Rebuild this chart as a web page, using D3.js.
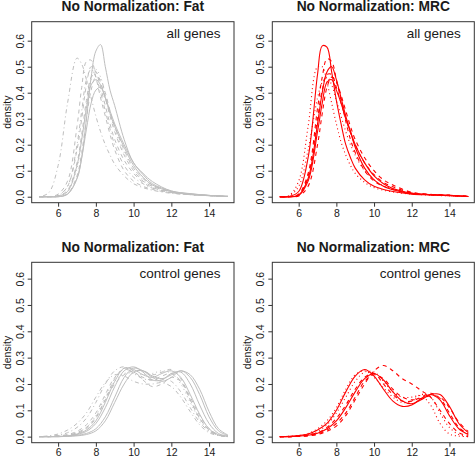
<!DOCTYPE html>
<html><head><meta charset="utf-8">
<script src="https://cdn.jsdelivr.net/npm/d3@7"></script>
<style>
html,body{margin:0;padding:0;background:#fff;}
svg text{font-family:"Liberation Sans",Arial,Helvetica,sans-serif;fill:#1a1a1a;}
</style></head>
<body><svg id="chart" width="476" height="459"></svg>
<script>
// ---------- data ----------
const xAll = [5.0,5.5,6.0,6.5,7.0,7.25,7.5,7.75,8.0,8.25,8.5,8.75,9.0,9.5,10.0,10.5,11.0,12.0,13.0,14.0,15.0];
const xCtl = [5.0,5.5,6.0,6.5,7.0,7.5,8.0,8.5,9.0,9.5,10.0,10.5,11.0,11.5,12.0,12.5,13.0,13.5,14.0,14.5,15.0];

// No Normalization: Fat, all genes
const fatAll1  = [0,0.015,0.12,0.36,0.533,0.51,0.45,0.38,0.31,0.25,0.2,0.16,0.125,0.08,0.05,0.035,0.025,0.013,0.008,0.004,0.001];
const fatAll2  = [0,0,0.01,0.06,0.27,0.42,0.52,0.525,0.46,0.38,0.31,0.24,0.18,0.1,0.06,0.04,0.028,0.015,0.008,0.004,0.001];
const fatAll3  = [0,0,0.005,0.04,0.18,0.3,0.43,0.5,0.48,0.42,0.35,0.28,0.22,0.14,0.09,0.055,0.035,0.017,0.009,0.004,0.001];
const fatAll4  = [0,0,0.003,0.025,0.13,0.24,0.37,0.46,0.48,0.44,0.38,0.31,0.25,0.16,0.1,0.06,0.04,0.018,0.009,0.004,0.001];
const fatAll5  = [0,0,0.002,0.02,0.11,0.22,0.35,0.45,0.49,0.46,0.39,0.32,0.26,0.17,0.11,0.065,0.04,0.018,0.009,0.004,0.001];
const fatAll6  = [0,0,0,0.01,0.07,0.15,0.3,0.46,0.56,0.585,0.5,0.41,0.35,0.22,0.13,0.09,0.058,0.022,0.012,0.005,0.001];
const fatAll7  = [0,0,0.002,0.02,0.12,0.22,0.34,0.43,0.45,0.43,0.38,0.32,0.27,0.19,0.12,0.075,0.045,0.02,0.01,0.005,0.001];
const fatAll8  = [0,0,0,0.01,0.07,0.15,0.26,0.36,0.41,0.42,0.38,0.33,0.28,0.2,0.13,0.085,0.05,0.022,0.011,0.005,0.001];
const fatAll9  = [0,0,0.001,0.012,0.08,0.17,0.3,0.41,0.46,0.45,0.4,0.33,0.27,0.18,0.11,0.07,0.045,0.02,0.01,0.005,0.001];
const fatAll10 = [0,0,0.004,0.04,0.2,0.33,0.45,0.49,0.46,0.4,0.33,0.26,0.2,0.12,0.075,0.05,0.033,0.016,0.008,0.004,0.001];
const fatAllTypes = [4,2,2,2,3,1,1,1,2,4];

// No Normalization: MRC, all genes
const mrcAll1 = [0,0.001,0.02,0.15,0.47,0.58,0.575,0.48,0.37,0.28,0.2,0.15,0.11,0.065,0.04,0.028,0.02,0.01,0.007,0.004,0.001];
const mrcAll2 = [0,0,0.01,0.09,0.34,0.46,0.53,0.52,0.45,0.37,0.29,0.22,0.17,0.1,0.06,0.04,0.028,0.012,0.008,0.005,0.001];
const mrcAll3 = [0,0,0.006,0.07,0.28,0.4,0.48,0.5,0.45,0.38,0.31,0.25,0.19,0.11,0.065,0.04,0.027,0.012,0.008,0.005,0.001];
const mrcAll4 = [0,0,0.008,0.08,0.3,0.41,0.47,0.47,0.42,0.36,0.3,0.245,0.2,0.13,0.085,0.055,0.038,0.015,0.008,0.005,0.001];
const mrcAll5 = [0,0,0.005,0.06,0.25,0.36,0.44,0.45,0.41,0.36,0.3,0.25,0.2,0.13,0.08,0.05,0.032,0.014,0.008,0.005,0.001];
const mrcAll6 = [0,0.005,0.06,0.27,0.5,0.5,0.44,0.36,0.28,0.21,0.16,0.12,0.09,0.055,0.035,0.025,0.018,0.01,0.006,0.003,0.001];
const mrcAll7 = [0,0.003,0.04,0.18,0.38,0.44,0.46,0.43,0.37,0.31,0.25,0.2,0.16,0.1,0.065,0.042,0.03,0.013,0.008,0.004,0.001];
const mrcAll8 = [0,0,0.003,0.04,0.2,0.32,0.42,0.46,0.44,0.39,0.33,0.27,0.22,0.15,0.1,0.065,0.045,0.017,0.009,0.005,0.001];
const mrcAllTypes = [1,2,1,2,1,3,3,2];

// No Normalization: Fat, control genes
const fatCtl1  = [0,0,0,0.002,0.008,0.02,0.05,0.11,0.19,0.25,0.265,0.245,0.215,0.215,0.24,0.245,0.2,0.12,0.05,0.012,0.002];
const fatCtl2  = [0,0,0,0.002,0.005,0.012,0.03,0.075,0.15,0.225,0.26,0.25,0.225,0.21,0.225,0.25,0.225,0.16,0.075,0.022,0.004];
const fatCtl3  = [0,0,0.001,0.003,0.01,0.025,0.06,0.13,0.21,0.26,0.255,0.235,0.225,0.24,0.25,0.225,0.16,0.085,0.03,0.007,0.001];
const fatCtl4  = [0,0,0.002,0.006,0.015,0.035,0.075,0.14,0.2,0.235,0.25,0.25,0.235,0.245,0.255,0.22,0.14,0.07,0.025,0.006,0.001];
const fatCtl5  = [0,0,0.003,0.008,0.02,0.045,0.09,0.16,0.225,0.255,0.245,0.225,0.215,0.23,0.24,0.21,0.14,0.07,0.025,0.006,0.001];
const fatCtl6  = [0,0.003,0.01,0.025,0.05,0.09,0.15,0.205,0.235,0.23,0.21,0.2,0.2,0.205,0.19,0.15,0.095,0.045,0.015,0.004,0];
const fatCtl7  = [0,0,0.001,0.004,0.012,0.03,0.07,0.14,0.22,0.26,0.25,0.215,0.19,0.2,0.225,0.21,0.15,0.08,0.03,0.008,0.001];
const fatCtl8  = [0,0,0,0.001,0.003,0.008,0.022,0.06,0.13,0.2,0.245,0.25,0.23,0.22,0.235,0.25,0.235,0.18,0.095,0.03,0.006];
const fatCtl9  = [0,0,0.002,0.006,0.015,0.035,0.08,0.15,0.21,0.24,0.24,0.235,0.24,0.25,0.24,0.2,0.13,0.065,0.022,0.005,0];
const fatCtl10 = [0,0.001,0.005,0.015,0.035,0.07,0.13,0.2,0.25,0.265,0.24,0.22,0.215,0.22,0.21,0.17,0.11,0.055,0.02,0.005,0.001];
const fatCtlTypes = [1,1,1,2,2,4,2,1,3,4];

// No Normalization: MRC, control genes
const mrcCtl1 = [0,0.001,0.004,0.01,0.025,0.05,0.1,0.17,0.23,0.255,0.23,0.18,0.135,0.115,0.12,0.145,0.16,0.14,0.08,0.03,0.008];
const mrcCtl2 = [0,0,0.002,0.005,0.013,0.03,0.06,0.11,0.17,0.22,0.24,0.215,0.17,0.135,0.125,0.14,0.16,0.16,0.115,0.05,0.015];
const mrcCtl3 = [0,0,0.001,0.003,0.008,0.02,0.04,0.08,0.14,0.2,0.25,0.27,0.25,0.22,0.2,0.175,0.15,0.1,0.05,0.015,0.003];
const mrcCtl4 = [0,0,0.001,0.004,0.01,0.025,0.05,0.09,0.15,0.21,0.235,0.22,0.18,0.15,0.14,0.145,0.155,0.15,0.11,0.055,0.02];
const mrcCtl5 = [0,0.001,0.003,0.008,0.02,0.045,0.09,0.15,0.21,0.245,0.245,0.21,0.17,0.15,0.15,0.155,0.12,0.05,0.01,0.002,0];
const mrcCtl6 = [0,0,0.002,0.006,0.015,0.035,0.07,0.12,0.18,0.225,0.24,0.2,0.16,0.135,0.135,0.15,0.165,0.145,0.09,0.035,0.01];
const mrcCtl7 = [0,0.001,0.004,0.012,0.03,0.06,0.11,0.18,0.235,0.25,0.225,0.185,0.15,0.13,0.135,0.16,0.15,0.09,0.035,0.008,0.001];
const mrcCtlTypes = [1,1,2,2,3,2,3];

const xTicks = [6,8,10,12,14];
const yTicks = [0,0.1,0.2,0.3,0.4,0.5,0.6];
const titles = ["No Normalization: Fat","No Normalization: MRC","No Normalization: Fat","No Normalization: MRC"];
const notes = ["all genes","all genes","control genes","control genes"];
const yLabel = "density";

// ---------- layout & style ----------
const GRAY = "#bebebe", RED = "#ff0000";
const dashes = {1:null, 2:"4,4", 3:"1,3", 4:"1,3,4,3", 5:"7,3", 6:"2,2,6,2"};
const panels = [
  {x0:31.7, x1:234,   y0:21.7,  y1:202.7, ymax:0.673, pad:3, grid:xAll, series:[fatAll1,fatAll2,fatAll3,fatAll4,fatAll5,fatAll6,fatAll7,fatAll8,fatAll9,fatAll10], types:fatAllTypes, color:GRAY, lw:1},
  {x0:272.3,x1:474.3, y0:21.7,  y1:202.7, ymax:0.673, pad:3, grid:xAll, series:[mrcAll1,mrcAll2,mrcAll3,mrcAll4,mrcAll5,mrcAll6,mrcAll7,mrcAll8], types:mrcAllTypes, color:RED, lw:1.1},
  {x0:31.7, x1:234,   y0:262.3, y1:442.7, ymax:0.662, pad:1.8, grid:xCtl, series:[fatCtl1,fatCtl2,fatCtl3,fatCtl4,fatCtl5,fatCtl6,fatCtl7,fatCtl8,fatCtl9,fatCtl10], types:fatCtlTypes, color:GRAY, lw:1},
  {x0:272.3,x1:474.3, y0:262.3, y1:442.7, ymax:0.662, pad:1.8, grid:xCtl, series:[mrcCtl1,mrcCtl2,mrcCtl3,mrcCtl4,mrcCtl5,mrcCtl6,mrcCtl7], types:mrcCtlTypes, color:RED, lw:1.1}
];

const svg = d3.select("#chart");

panels.forEach((p, i) => {
  const x = d3.scaleLinear().domain([4.6, 15.32]).range([p.x0, p.x1]);
  const y = d3.scaleLinear().domain([-0.023, p.ymax]).range([p.y1, p.y0]);
  const g = svg.append("g");
  const clipId = "clip" + i;
  g.append("clipPath").attr("id", clipId).append("rect")
    .attr("x", p.x0).attr("y", p.y0).attr("width", p.x1 - p.x0).attr("height", p.y1 - p.y0);

  const line = d3.line().x((d) => x(d[0])).y((d) => y(d[1])).curve(d3.curveCatmullRom.alpha(0.5));
  const lines = g.append("g").attr("clip-path", `url(#${clipId})`);
  p.series.forEach((s, k) => {
    lines.append("path")
      .datum(s.map((v, j) => [p.grid[j], v]))
      .attr("d", line)
      .attr("fill", "none")
      .attr("stroke", p.color)
      .attr("stroke-width", p.lw)
      .attr("stroke-dasharray", dashes[p.types[k]]);
  });

  // box
  g.append("rect").attr("x", p.x0).attr("y", p.y0)
    .attr("width", p.x1 - p.x0).attr("height", p.y1 - p.y0)
    .attr("fill", "none").attr("stroke", "#333").attr("stroke-width", 1);

  // x axis
  const ax = g.append("g").attr("transform", `translate(0,${p.y1})`)
    .call(d3.axisBottom(x).tickValues(xTicks).tickSize(4).tickPadding(p.pad).tickFormat(d3.format("d")));
  ax.select(".domain").remove();
  ax.selectAll("line").attr("stroke", "#333");
  ax.selectAll("text").attr("font-size", 10.5).attr("fill", "#1a1a1a")
    .style("font-family", '"Liberation Sans", Arial, sans-serif');

  // y axis
  const ay = g.append("g").attr("transform", `translate(${p.x0},0)`)
    .call(d3.axisLeft(y).tickValues(yTicks).tickSize(4).tickFormat(d3.format(".1f")));
  ay.select(".domain").remove();
  ay.selectAll("line").attr("stroke", "#333");
  ay.selectAll("text").attr("font-size", 10.5).attr("fill", "#1a1a1a")
    .style("font-family", '"Liberation Sans", Arial, sans-serif')
    .attr("x", null).attr("dy", null)
    .attr("text-anchor", "middle")
    .attr("transform", "translate(-8,0) rotate(-90)");

  // y label
  svg.append("text").attr("text-anchor", "middle").attr("font-size", 10.5)
    .attr("transform", `translate(${p.x0 - 21},${(p.y0 + p.y1) / 2}) rotate(-90)`)
    .text(yLabel);

  // title
  svg.append("text").attr("text-anchor", "middle").attr("font-size", 13.8).attr("font-weight", "bold")
    .attr("x", (p.x0 + p.x1) / 2).attr("y", p.y0 - 10.5).text(titles[i]);

  // note (top right)
  svg.append("text").attr("text-anchor", "end").attr("font-size", 13.5)
    .attr("x", p.x1 - 13.5).attr("y", p.y0 + 16).text(notes[i]);
});
</script></body></html>
